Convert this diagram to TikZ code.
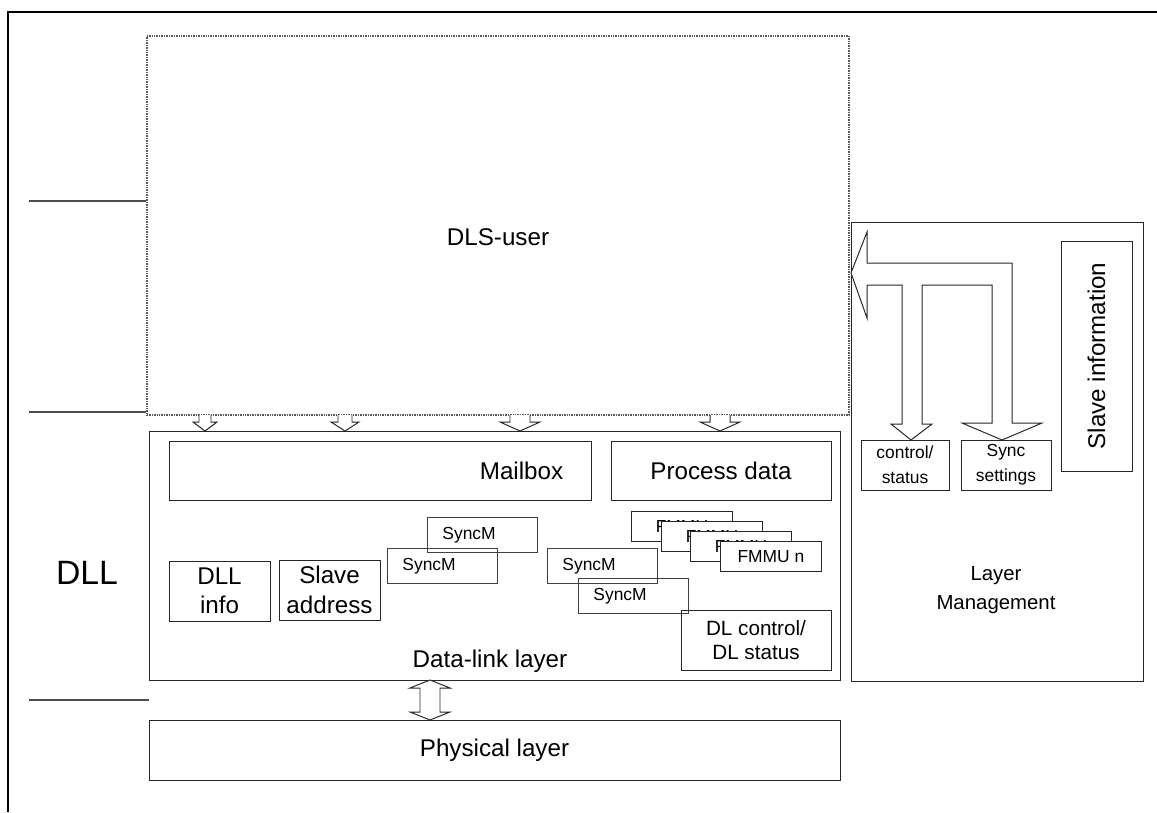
\documentclass[tikz,border=0pt]{standalone}
\usepackage{fontspec}
\setmainfont{Liberation Sans}
\usetikzlibrary{positioning,fit,calc}
\newcommand{\fbig}{\fontsize{17.2}{21}\selectfont}
\newcommand{\fmid}{\fontsize{14.7}{16.6}\selectfont}
\newcommand{\fsmall}{\fontsize{12.4}{18}\selectfont}
\newcommand{\fhuge}{\fontsize{24}{28}\selectfont}
% hollow arrow from the DLS-user down into the data-link layer
\newcommand{\userarrow}[3]{%
  \draw[hollow] (#1-#2,415) -- (#1-#2,422) -- (#1-#3,422) -- (#1,431)
    -- (#1+#3,422) -- (#1+#2,422) -- (#1+#2,415);}
\tikzset{
  frame/.style={line width=1.4pt,draw=black},
  sepline/.style={line width=0.8pt,draw=black!70},
  userbox/.style={draw=black!65,dash pattern=on 0.7pt off 0.5pt,line width=0.8pt,inner sep=0pt},
  box/.style={draw=black!85,line width=0.7pt,inner sep=0pt},
  syncm/.style={draw=black!75,line width=0.6pt,anchor=north west,align=left,
                text width=2cm,inner xsep=0.375cm,inner ysep=0pt,
                minimum height=0.875cm,font=\fsmall},
  fmmu/.style={draw=black!85,fill=white,line width=0.6pt,anchor=north west,
               minimum width=2.525cm,minimum height=0.75cm,inner sep=0pt,font=\fsmall},
  lbl/.style={inner sep=0pt,align=center,font=\fbig},
  hollow/.style={draw=black!85,fill=white,line width=0.7pt,line join=miter},
}
\begin{document}
\begin{tikzpicture}[x=0.025cm,y=-0.025cm]
  \useasboundingbox (0,0) rectangle (1157,812);
  \draw[frame] (8,812) -- (8,12) -- (1157,12);

  % DLS-user
  \node[userbox,fit={(147,36) (849,415)}] (dls) {};
  \node[lbl] (dlstxt) at (498,237) {DLS-user};

  % data-link layer
  \node[box,fit={(149,431) (840,680)}] (dll) {};
  \node[lbl] (dlltxt) at (490,661) {Data-link layer};
  \node[box,fit={(169,441) (591,500)}] (mbx) {};
  \node[lbl,left=0.7cm of mbx.east] (mbxtxt) {Mailbox};
  \node[box,fit={(611,441) (831,500)}] (pdata) {};
  \node[lbl] (pdatatxt) at (pdata.center) {Process data};
  \node[box,fit={(169,561) (270,621)}] (dllinfo) {};
  \node[lbl] (dllinfotxt) at (dllinfo.center) {DLL\\info};
  \node[box,fit={(279,560) (380,620)}] (slvaddr) {};
  \node[lbl] (slvaddrtxt) at (slvaddr.center) {Slave\\address};

  \node[syncm] (syncA) at (427,517) {SyncM};
  \node[syncm] (syncB) at (387,548) {SyncM};
  \node[syncm] (syncC) at (547,548) {SyncM};
  \node[syncm] (syncD) at (578,578) {SyncM};

  \node[fmmu] (fmmuA) at (631,511) {FMMU};
  \node[fmmu] (fmmuB) at (661,521) {FMMU};
  \node[fmmu] (fmmuC) at (690,531) {FMMU};
  \node[fmmu] (fmmuD) at (720,541) {FMMU n};

  \node[box,fit={(681,610) (831,670)}] (dlctrl) {};
  \node[lbl,font=\fmid] (dlctrltxt) at (dlctrl.center) {DL control/\\DL status};

  % physical layer
  \node[box,fit={(149,720) (840,780)}] (phys) {};
  \node[lbl] (physuxt) at (phys.center) {Physical layer};

  % layer management
  \node[box,fit={(851,222) (1143,681)}] (lm) {};
  \node[lbl,font=\fontsize{14.5}{20.5}\selectfont] (lmtxt) at (996,590) {Layer\\Management};
  \node[box,fit={(1061,241) (1132,471)}] (slvinfo) {};
  \node[lbl,rotate=90] (slvtxt) at (slvinfo.center) {Slave information};
  \node[box,fit={(861,440) (949,490)}] (ctrl) {};
  \node[lbl,font=\fsmall] (ctrltxt) at (ctrl.center) {control/\\status};
  \node[box,fit={(961,440) (1051,490)}] (syncset) {};
  \node[lbl,font=\fsmall] (syncsettxt) at (syncset.center) {Sync\\settings};

  % layer separators and DLL tag
  \coordinate (sepA) at (29,201);
  \coordinate (sepB) at (29,412);
  \coordinate (sepC) at (29,700);
  \draw[sepline] (sepA) -- (sepA -| dls.west);
  \draw[sepline] (sepB) -- (sepB -| dls.west);
  \draw[sepline] (sepC) -- (sepC -| dll.west);
  \node[lbl,font=\fhuge] (dlltag) at (87,573) {DLL};

  % service arrows
  \userarrow{205}{6}{12}
  \userarrow{345}{7}{14}
  \userarrow{520}{10}{20}
  \userarrow{720}{10}{20}

  \draw[hollow] (430,680) -- (450,688) -- (440,688) -- (440,712) -- (450,712)
    -- (430,720) -- (410,712) -- (420,712) -- (420,688) -- (410,688) -- cycle;

  \draw[hollow] (867,263) -- (1012,263) -- (1012,423) -- (1042,423) -- (1002,440)
    -- (962,423) -- (992,423) -- (992,285) -- (922,285) -- (922,424) -- (932,424)
    -- (911,440) -- (891,424) -- (902,424) -- (902,285) -- (867,285) -- (867,318)
    -- (851,273) -- (867,232) -- cycle;
\end{tikzpicture}
\end{document}
